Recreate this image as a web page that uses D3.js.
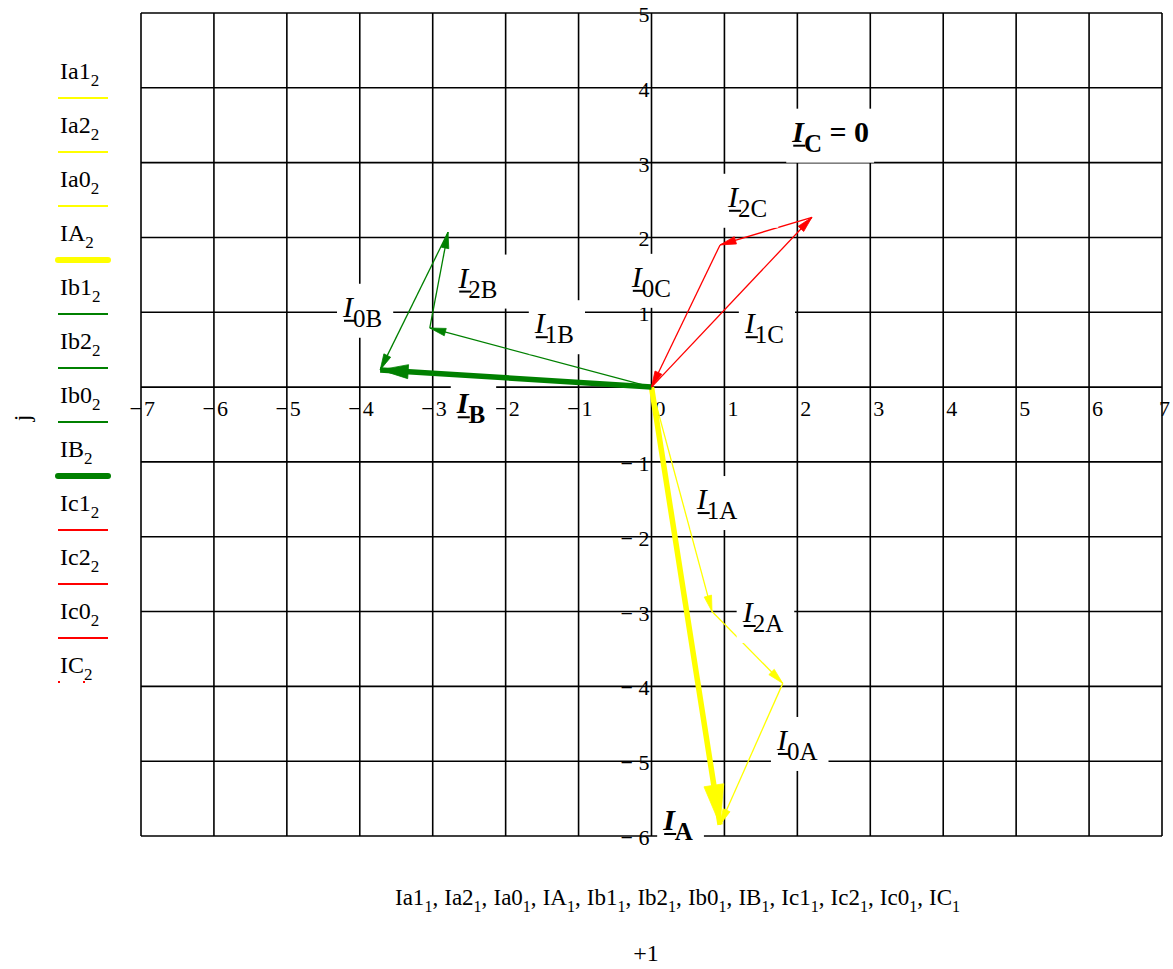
<!DOCTYPE html>
<html>
<head>
<meta charset="utf-8">
<script src="https://cdn.jsdelivr.net/npm/d3@7"></script>
<style>
body { margin: 0; background: #fff; }
text { font-family: "Liberation Serif", "Times New Roman", serif; fill: #000; }
</style>
</head>
<body>
<svg id="chart" width="1173" height="969"></svg>
<script>
// tick values
var xTicks = [-7, -6, -5, -4, -3, -2, -1, 0, 1, 2, 3, 4, 5, 6, 7];
var yTicks = [-6, -5, -4, -3, -2, -1, 0, 1, 2, 3, 4, 5];
var yTickLabels = [-6, -5, -4, -3, -2, -1, 1, 2, 3, 4, 5];

// symmetrical components [re, im], drawn head to tail: 1, 2, 0
var phaseA = [[0.83, -3.00], [0.97, -0.96], [-0.86, -1.89]];
var phaseB = [[-3.04, 0.79], [0.25, 1.28], [-0.93, -1.84]];
var phaseC = [[2.20, 2.27], [-1.26, -0.37], [-0.94, -1.90]];
// phase currents
var totalA = [0.94, -5.85];
var totalB = [-3.72, 0.23];
var totalC = [0, 0];

var traceNames = ["Ia1", "Ia2", "Ia0", "IA", "Ib1", "Ib2", "Ib0", "IB", "Ic1", "Ic2", "Ic0", "IC"];

// vector labels (text start / baseline, in plot units)
var vecLabels = [
	{sub: "1A", x: 0.62, y: -1.63},
	{sub: "2A", x: 1.25, y: -3.14},
	{sub: "0A", x: 1.72, y: -4.85},
	{sub: "A", x: 0.16, y: -5.92, bold: true},
	{sub: "1B", x: -1.60, y: 0.72},
	{sub: "2B", x: -2.65, y: 1.33},
	{sub: "0B", x: -4.23, y: 0.94},
	{sub: "B", x: -2.67, y: -0.35, bold: true},
	{sub: "1C", x: 1.28, y: 0.72},
	{sub: "2C", x: 1.05, y: 2.41},
	{sub: "0C", x: -0.27, y: 1.34},
	{sub: "C", x: 1.93, y: 3.28, bold: true, tail: " = 0"}
];

var colors = {A: "#ffff00", B: "#008000", C: "#ff0000"};

var svg = d3.select("#chart");
var x = d3.scaleLinear().domain([-7, 7]).range([141, 1162]);
var y = d3.scaleLinear().domain([-6, 5]).range([836, 13]);

//grid
var grid = svg.append("g").attr("stroke", "#000").attr("stroke-width", 1.6);
grid.selectAll(".gx").data(xTicks).enter().append("line")
	.attr("x1", function(d){ return x(d); }).attr("x2", function(d){ return x(d); })
	.attr("y1", y(5)).attr("y2", y(-6));
grid.selectAll(".gy").data(yTicks).enter().append("line")
	.attr("y1", function(d){ return y(d); }).attr("y2", function(d){ return y(d); })
	.attr("x1", x(-7)).attr("x2", x(7));

//tick labels
var ticks = svg.append("g").attr("font-size", 22);
xTicks.forEach(function(v){
	var px = x(v);
	if (v < 0) {
		ticks.append("text").attr("x", px + 1).attr("y", 416).attr("text-anchor", "end").text("\u2212");
	}
	// last label would run off the right edge
	var lx = (v === 7) ? px - 3 : px + 3;
	ticks.append("text").attr("x", lx).attr("y", 416).text(Math.abs(v));
});
yTickLabels.forEach(function(v){
	ticks.append("text").attr("x", x(0) - 2).attr("y", y(v) + 9).attr("text-anchor", "end")
		.text((v < 0 ? "\u2212 " : "") + Math.abs(v));
});

//vectors
var vecLayer = svg.append("g");

function arrowHead(p0, p1, len, half, color){
	var dx = p1[0] - p0[0], dy = p1[1] - p0[1];
	var l = Math.sqrt(dx*dx + dy*dy);
	if (l === 0) return;
	var ux = dx/l, uy = dy/l;
	var bx = p1[0] - ux*len, by = p1[1] - uy*len;
	var pts = [[p1[0], p1[1]], [bx - uy*half, by + ux*half], [bx + uy*half, by - ux*half]];
	vecLayer.append("polygon").attr("points", pts.map(function(p){ return p.join(","); }).join(" "))
		.attr("fill", color).attr("stroke", color).attr("stroke-width", 0.8);
}

function drawVector(from, to, color, width, headLen, headHalf){
	var p0 = [x(from[0]), y(from[1])], p1 = [x(to[0]), y(to[1])];
	if (p0[0] === p1[0] && p0[1] === p1[1]) return;
	vecLayer.append("line")
		.attr("x1", p0[0]).attr("y1", p0[1]).attr("x2", p1[0]).attr("y2", p1[1])
		.attr("stroke", color).attr("stroke-width", width);
	arrowHead(p0, p1, headLen, headHalf, color);
}

function drawPhase(parts, total, color, headLen, headHalf){
	drawVector([0, 0], total, color, 5.5, headLen, headHalf);
	var start = [0, 0];
	parts.forEach(function(v){
		var end = [start[0] + v[0], start[1] + v[1]];
		drawVector(start, end, color, 1.3, 16, 3.8);
		start = end;
	});
}

drawPhase(phaseA, totalA, colors.A, 40, 10);
drawPhase(phaseB, totalB, colors.B, 28, 7);
drawPhase(phaseC, totalC, colors.C, 28, 7);

//labels with opaque background
var labelLayer = svg.append("g");
vecLabels.forEach(function(d){
	var g = labelLayer.append("g");
	var px = x(d.x), py = y(d.y);
	var t = g.append("text").attr("x", px).attr("y", py).attr("font-size", 30)
		.attr("font-weight", d.bold ? "bold" : null);
	t.append("tspan").attr("font-style", "italic").text("I");
	t.append("tspan").attr("font-size", 25).attr("dy", 10).text(d.sub);
	if (d.tail) t.append("tspan").attr("dy", -10).text(d.tail);
	var b = t.node().getBBox();
	var rightPad = d.tail ? 5 : 11;
	g.insert("rect", "text")
		.attr("x", b.x - 5).attr("y", b.y - 6)
		.attr("width", b.width + 5 + rightPad).attr("height", b.height + 12)
		.attr("fill", "#fff");
	g.append("line").attr("x1", px + 1).attr("x2", px + 13)
		.attr("y1", py + 4).attr("y2", py + 4)
		.attr("stroke", "#000").attr("stroke-width", 2);
});

//legend
var legend = svg.append("g");
traceNames.forEach(function(n, i){
	var ly = 98 + 54*i;
	var ph = n.charAt(1).toUpperCase();
	var t = legend.append("text").attr("x", 60).attr("y", ly - 19).attr("font-size", 24);
	t.append("tspan").text(n);
	t.append("tspan").attr("font-size", 17).attr("dy", 7).text("2");
	var isTotal = n.charAt(1) === ph;
	var line = legend.append("line").attr("x1", 58).attr("x2", 108).attr("y1", ly).attr("y2", ly)
		.attr("stroke", colors[ph]);
	if (n === "IC") {
		line.attr("y1", ly - 10).attr("y2", ly - 10).attr("stroke-width", 2).attr("stroke-dasharray", "2,23");
	} else if (isTotal) {
		line.attr("stroke-width", 6).attr("stroke-linecap", "round");
	} else {
		line.attr("stroke-width", 2);
	}
});

//axis captions
var bottom = svg.append("text").attr("x", 395).attr("y", 905).attr("font-size", 23);
traceNames.forEach(function(n, i){
	if (i > 0) bottom.append("tspan").attr("dy", -7).text(",");
	bottom.append("tspan").attr("class", "nm").text(n);
	bottom.append("tspan").attr("font-size", 16).attr("dy", 7).text("1");
});
var natural = bottom.node().getComputedTextLength();
var gap = (565 - natural) / (traceNames.length - 1);
bottom.selectAll("tspan.nm").each(function(d, i){
	if (i > 0) d3.select(this).attr("dx", gap);
});

svg.append("text").attr("x", 646).attr("y", 961).attr("text-anchor", "middle").attr("font-size", 24).text("+1");
svg.append("text").attr("transform", "translate(30,418) rotate(-90)").attr("text-anchor", "middle")
	.attr("font-size", 24).text("j");
</script>
</body>
</html>
